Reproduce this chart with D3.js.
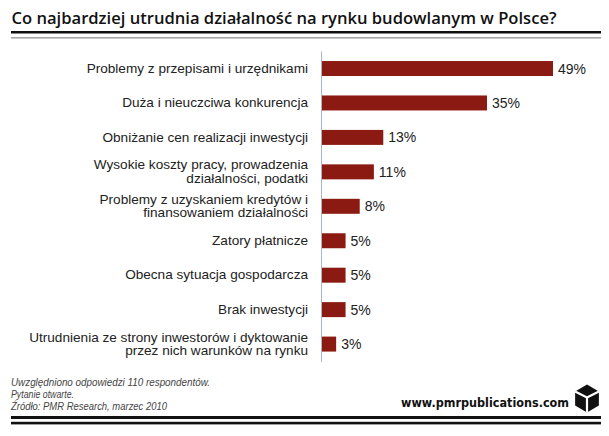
<!DOCTYPE html>
<html>
<head>
<meta charset="utf-8">
<script src="https://cdn.jsdelivr.net/npm/d3@7"></script>
<style>
  html, body { margin: 0; padding: 0; background: #fff; }
  svg { display: block; }
</style>
</head>
<body>
<svg id="chart" width="609" height="436"></svg>
<script>
const title = "Co najbardziej utrudnia działalność na rynku budowlanym w Polsce?";
const categories = [
  ["Problemy z przepisami i urzędnikami"],
  ["Duża i nieuczciwa konkurencja"],
  ["Obniżanie cen realizacji inwestycji"],
  ["Wysokie koszty pracy, prowadzenia", "działalności, podatki"],
  ["Problemy z uzyskaniem kredytów i", "finansowaniem działalności"],
  ["Zatory płatnicze"],
  ["Obecna sytuacja gospodarcza"],
  ["Brak inwestycji"],
  ["Utrudnienia ze strony inwestorów i dyktowanie", "przez nich warunków na rynku"]
];
const values = [49, 35, 13, 11, 8, 5, 5, 5, 3];
const valueLabels = ["49%", "35%", "13%", "11%", "8%", "5%", "5%", "5%", "3%"];
const footnotes = [
  "Uwzględniono odpowiedzi 110 respondentów.",
  "Pytanie otwarte.",
  "Źródło: PMR Research, marzec 2010"
];
const brand = "www.pmrpublications.com";

const svg = d3.select("#chart");

// Title
svg.append("text")
  .attr("x", 11.5).attr("y", 23.5)
  .attr("font-family", "'Open Sans', 'Noto Sans', sans-serif")
  .attr("font-weight", 600)
  .attr("font-size", 16.5)
  .attr("fill", "#111")
  .attr("textLength", 545).attr("lengthAdjust", "spacingAndGlyphs")
  .text(title);
svg.append("rect").attr("x", 11).attr("y", 31).attr("width", 590).attr("height", 2.5).attr("fill", "#111");
svg.append("rect").attr("x", 11).attr("y", 37).attr("width", 590).attr("height", 1.6).attr("fill", "#a8a8a8");

// Scales
const x = d3.scaleLinear().domain([0, 49]).range([322, 553]);
const y = d3.scaleBand().domain(d3.range(categories.length))
  .range([51.3, 361.3]).paddingInner(0.565).paddingOuter(0.2825);

// Bars
svg.append("g").selectAll("rect").data(values).join("rect")
  .attr("x", x(0))
  .attr("y", (d, i) => y(i))
  .attr("width", d => x(d) - x(0))
  .attr("height", y.bandwidth())
  .attr("fill", "#8b1a12");

// Axis line
svg.append("line")
  .attr("x1", 321.5).attr("x2", 321.5)
  .attr("y1", 51.5).attr("y2", 362)
  .attr("stroke", "#aab6c2").attr("stroke-width", 1);

// Category labels
const lab = svg.append("g")
  .attr("font-family", "'Liberation Sans', Arial, sans-serif")
  .attr("font-size", 13.6)
  .attr("fill", "#222")
  .attr("text-anchor", "end");
categories.forEach((lines, i) => {
  const cy = y(i) + y.bandwidth() / 2;
  const t = lab.append("text").attr("x", 308);
  const lh = 13.5;
  lines.forEach((ln, j) => {
    t.append("tspan")
      .attr("x", 308)
      .attr("y", cy + 4.2 + (j - (lines.length - 1) / 2) * lh)
      .text(ln);
  });
});

// Value labels
svg.append("g").selectAll("text").data(values).join("text")
  .attr("x", d => x(d) + 5)
  .attr("y", (d, i) => y(i) + y.bandwidth() / 2 + 5)
  .attr("font-family", "'Liberation Sans', Arial, sans-serif")
  .attr("font-size", 14)
  .attr("fill", "#222")
  .text((d, i) => valueLabels[i]);

// Footnotes
const fnWidths = [199, 63, 156];
svg.append("g").selectAll("text").data(footnotes).join("text")
  .attr("x", 11)
  .attr("y", (d, i) => 386.2 + i * 11.8)
  .attr("font-family", "'Liberation Sans', Arial, sans-serif")
  .attr("font-style", "italic")
  .attr("font-size", 10)
  .attr("fill", "#444")
  .attr("textLength", (d, i) => fnWidths[i]).attr("lengthAdjust", "spacingAndGlyphs")
  .text(d => d);

// Brand
svg.append("text")
  .attr("x", 401).attr("y", 407)
  .attr("font-family", "'DejaVu Sans', Verdana, sans-serif")
  .attr("font-weight", "bold")
  .attr("font-size", 12.5)
  .attr("fill", "#111")
  .attr("textLength", 168).attr("lengthAdjust", "spacingAndGlyphs")
  .text(brand);

// Cube logo
const cx = 587, cyL = 398.5, r = 14;
const hex = d3.range(6).map(k => {
  const a = -Math.PI / 2 + k * Math.PI / 3;
  return [cx + r * Math.cos(a) * 0.98, cyL + r * Math.sin(a)];
});
svg.append("path").attr("d", "M" + hex.join("L") + "Z").attr("fill", "#111");
const ctr = [cx, cyL - 1];
svg.append("path")
  .attr("d", `M${hex[5]}L${ctr}L${hex[1]}M${ctr}L${hex[3]}`)
  .attr("stroke", "#fff").attr("stroke-width", 2.2).attr("fill", "none");

// Bottom lines
svg.append("rect").attr("x", 11).attr("y", 416).attr("width", 590).attr("height", 3).attr("fill", "#111");
svg.append("rect").attr("x", 11).attr("y", 421.8).attr("width", 590).attr("height", 2.6).attr("fill", "#111");
</script>
</body>
</html>
